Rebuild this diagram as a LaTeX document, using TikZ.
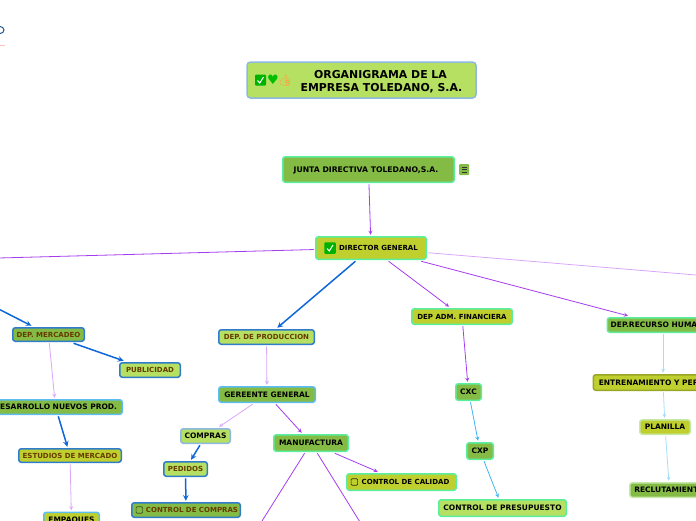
\documentclass[tikz,border=0pt]{standalone}
\usepackage{fontspec}
\setmainfont{DejaVu Sans}
\newfontfamily\emojifont{Noto Emoji}
\usetikzlibrary{positioning}

\definecolor{leafgreen}{HTML}{84BB45}
\definecolor{olivefill}{HTML}{BFD02E}
\definecolor{limefill}{HTML}{B5E061}
\definecolor{mintedge}{HTML}{5BEE9E}
\definecolor{blueedge}{HTML}{2F7CCB}
\definecolor{skyedge}{HTML}{5CBDF0}
\definecolor{greyblue}{HTML}{8DB8E0}
\definecolor{paleedge}{HTML}{C6E8A8}
\definecolor{browntext}{HTML}{663A00}
\definecolor{linkblue}{HTML}{0F66D8}
\definecolor{linkpurple}{HTML}{A53CF0}
\definecolor{linkpale}{HTML}{D9A6FA}
\definecolor{linksky}{HTML}{3FB4F0}
\definecolor{linkice}{HTML}{A6DEF5}

\tikzset{
  orgbox/.style={draw, rounded corners=2.5pt, line width=1.5pt, inner sep=0pt, outer sep=2pt,
    font=\fontsize{7.5}{9}\selectfont\bfseries, text=black},
  smalltext/.style={font=\fontsize{7}{8.5}\selectfont\bfseries},
  brown/.style={text=browntext, smalltext},
  blueline/.style={->, >=stealth, linkblue, line width=1.5pt},
  purpleline/.style={->, >=stealth, linkpurple, line width=.8pt},
  paleline/.style={->, >=stealth, linkpale, line width=.8pt},
  skyline/.style={->, >=stealth, linksky, line width=.8pt},
  iceline/.style={->, >=stealth, linkice, line width=.8pt},
  checkicon/.style={fill=#1, rounded corners=1pt, minimum size=8pt, inner sep=0pt},
  emptybox/.style={draw=#1, rounded corners=1pt, minimum size=6.5pt, inner sep=0pt, line width=.7pt}
}

\begin{document}
\begin{tikzpicture}[x=1pt, y=-1pt]

  \useasboundingbox (0,0) rectangle (696,520);
  \clip (0,0) rectangle (696,520);

  % mark at the page edge
  \draw[blueedge!70!black, line width=1pt] (0,33.5) arc (90:-90:4 and 3.5);
  \draw[red!25, line width=.8pt] (0,45) -- (5,45);

  % title and top of the chart
  \node[orgbox, fill=limefill, draw=greyblue, rounded corners=3.5pt, minimum width=229pt, minimum height=36pt, align=center,
    font=\fontsize{10.9}{13}\selectfont\bfseries] (title) at (361.5,80)
    {\rule{0pt}{11pt}\hspace*{38pt}ORGANIGRAMA DE LA\\\hspace*{40pt}EMPRESA TOLEDANO, S.A.};
  \node[orgbox, fill=leafgreen, draw=mintedge, minimum width=171.5pt, minimum height=25.5pt, text depth=0pt,
    font=\fontsize{7.7}{9}\selectfont\bfseries] (junta) at (368.5,169.5)
    {\hspace*{-5pt}JUNTA DIRECTIVA TOLEDANO,S.A.};
  \node[orgbox, smalltext, fill=olivefill, draw=mintedge, minimum width=110.5pt, minimum height=22.5pt] (director) at (371,248)
    {\hspace*{15pt}DIRECTOR GENERAL};

  % left branch
  \node[orgbox, fill=leafgreen, draw=blueedge, brown, minimum width=71.5pt, minimum height=13.5pt] (mercadeo) at (48.5,334.5) {DEP. MERCADEO};
  \node[orgbox, fill=limefill, draw=blueedge, brown, minimum width=60.5pt, minimum height=14.5pt] (publicidad) at (150,370) {PUBLICIDAD};
  \node[orgbox, fill=leafgreen, draw=skyedge, minimum width=133.5pt, minimum height=14.5pt] (desarrollo) at (55.5,407) {DESARROLLO NUEVOS PROD.};
  \node[orgbox, fill=olivefill, draw=blueedge, brown, minimum width=102.5pt, minimum height=13.5pt] (estudios) at (70,455.5) {ESTUDIOS DE MERCADO};
  \node[orgbox, fill=olivefill, draw=skyedge, minimum width=55.5pt, minimum height=16.5pt] (empaques) at (71.5,520.5) {EMPAQUES};

  % production branch
  \node[orgbox, fill=limefill, draw=blueedge, brown, minimum width=95.5pt, minimum height=14.5pt] (produccion) at (266.5,337) {DEP. DE PRODUCCION};
  \node[orgbox, fill=leafgreen, draw=skyedge, minimum width=96.5pt, minimum height=15.5pt] (gereente) at (267,394.5) {GEREENTE GENERAL};
  \node[orgbox, fill=limefill, draw=greyblue, minimum width=49.5pt, minimum height=14.5pt] (compras) at (205.5,436) {COMPRAS};
  \node[orgbox, fill=limefill, draw=blueedge, brown, minimum width=43.5pt, minimum height=14.5pt] (pedidos) at (185.5,469) {PEDIDOS};
  \node[orgbox, fill=leafgreen, draw=blueedge, brown, minimum width=108.5pt, minimum height=14.5pt] (ctlcompras) at (186,510)
    {\hspace*{12pt}CONTROL DE COMPRAS};
  \node[orgbox, fill=leafgreen, draw=mintedge, minimum width=74.5pt, minimum height=16.5pt] (manufactura) at (311,443) {MANUFACTURA};
  \node[orgbox, smalltext, fill=olivefill, draw=mintedge, minimum width=109.5pt, minimum height=16.5pt] (ctlcalidad) at (401.5,482)
    {\hspace*{8pt}CONTROL DE CALIDAD};
  \coordinate (leftdown) at (240,556);
  \coordinate (rightdown) at (381,556);

  % finance branch
  \node[orgbox, smalltext, fill=olivefill, draw=mintedge, minimum width=100.5pt, minimum height=15.5pt] (financiera) at (462,316.5) {DEP ADM. FINANCIERA};
  \node[orgbox, fill=leafgreen, draw=mintedge, minimum width=25.5pt, minimum height=16.5pt] (cxc) at (468.5,392) {CXC};
  \node[orgbox, fill=leafgreen, draw=mintedge, minimum width=26.5pt, minimum height=16.5pt] (cxp) at (480,451) {CXP};
  \node[orgbox, fill=limefill, draw=mintedge, minimum width=127.5pt, minimum height=16.5pt] (presupuesto) at (502.5,508) {CONTROL DE PRESUPUESTO};

  % human resources branch
  \node[orgbox, fill=leafgreen, draw=mintedge, minimum width=111.5pt, minimum height=14.5pt] (recursos) at (663,325) {DEP.RECURSO HUMANOS};
  \node[orgbox, fill=olivefill, draw=olivefill!80!black, minimum width=139.5pt, minimum height=15.5pt] (entrena) at (663,382.5) {ENTRENAMIENTO Y PERSONAL};
  \node[orgbox, fill=olivefill, draw=paleedge, minimum width=50.5pt, minimum height=14.5pt] (planilla) at (665,427) {PLANILLA};
  \node[orgbox, fill=leafgreen, draw=paleedge, minimum width=79.5pt, minimum height=14.5pt] (reclutamiento) at (669.5,490) {RECLUTAMIENTO};

  % branches that leave the page
  \coordinate (offleft) at (-20,258.5);
  \coordinate (offright) at (720,277);
  \coordinate (offmercadeo) at (-20,299.5);

  % icons
  \node[checkicon=green!70!black, minimum size=11pt] (titlecheck) at (260.5,80) {};
  \draw[white, line width=1pt] (257.5,80.5) -- (259.8,83) -- (263.5,77);
  \node[inner sep=0pt, text=green!75!black, font=\fontsize{13}{13}\selectfont] (titleheart) at (273,80) {♥};
  \node[inner sep=0pt, text=orange!75, font=\fontsize{11}{11}\emojifont] (titlethumb) at (285,80.5) {👍};
  \node[fill=leafgreen, rounded corners=1pt, minimum width=10pt, minimum height=11pt, inner sep=0pt] (menuicon) at (464,169.5) {};
  \foreach \y in {167,169.5,172} {
    \draw[black!80, line width=.6pt] (461.5,\y) -- (466.5,\y);
  }
  \node[checkicon=green!70!black, minimum size=11.5pt] (dircheck) at (330,248) {};
  \draw[white, line width=1pt] (327,248.5) -- (329.3,251) -- (333,245);
  \node[emptybox=black!55!leafgreen, right=6pt of ctlcompras.west] (comprasbox) {};
  \node[emptybox=black!75!olivefill, right=6pt of ctlcalidad.west] (calidadbox) {};

  % connectors
  \draw[purpleline] (junta) -- (director);
  \draw[purpleline, -] (director) -- (offleft);
  \draw[paleline, -] (director) -- (offright);
  \draw[blueline] (director) -- (produccion);
  \draw[purpleline] (director) -- (financiera);
  \draw[purpleline] (director) -- (recursos);

  \draw[blueline] (offmercadeo) -- (mercadeo);
  \draw[blueline] (mercadeo) -- (publicidad);
  \draw[paleline] (mercadeo) -- (desarrollo);
  \draw[blueline] (desarrollo) -- (estudios);
  \draw[paleline] (estudios) -- (empaques);

  \draw[paleline] (produccion) -- (gereente);
  \draw[paleline] (gereente) -- (compras);
  \draw[purpleline] (gereente) -- (manufactura);
  \draw[blueline] (compras) -- (pedidos);
  \draw[blueline] (pedidos) -- (ctlcompras);
  \draw[purpleline] (manufactura) -- (ctlcalidad);
  \draw[purpleline] (manufactura) -- (leftdown);
  \draw[purpleline] (manufactura) -- (rightdown);

  \draw[purpleline] (financiera) -- (cxc);
  \draw[skyline] (cxc) -- (cxp);
  \draw[skyline] (cxp) -- (presupuesto);

  \draw[iceline] (recursos) -- (entrena);
  \draw[iceline] (entrena) -- (planilla);
  \draw[iceline] (planilla) -- (reclutamiento);

\end{tikzpicture}
\end{document}
